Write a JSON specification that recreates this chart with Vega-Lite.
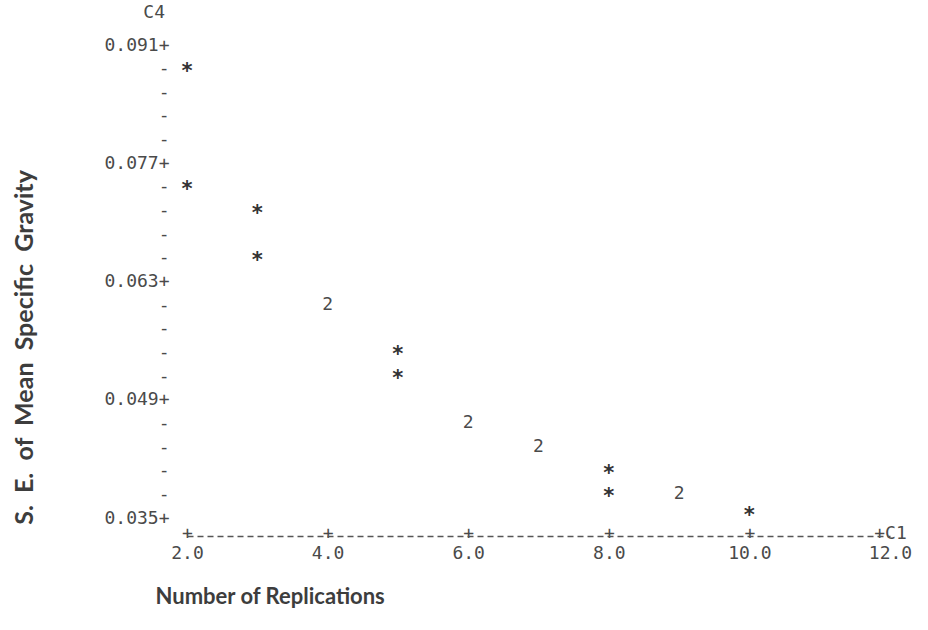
{
  "$schema": "https://vega.github.io/schema/vega-lite/v6.json",
  "autosize": {"type": "none"},
  "padding": {"left": 187, "top": 45, "right": 38, "bottom": 112},
  "width": 703,
  "height": 473,
  "background": "#ffffff",
  "config": {"view": {"stroke": null}},
  "title": {
    "text": "C4",
    "orient": "top",
    "anchor": "start",
    "frame": "group",
    "align": "right",
    "dx": -22,
    "offset": 14,
    "font": "DejaVu Sans Mono",
    "fontSize": 18,
    "fontWeight": "normal",
    "color": "#4a4a4a"
  },
  "data": {
    "values": [
      {"replications": 2, "se": 0.0882, "symbol": "*"},
      {"replications": 2, "se": 0.0742, "symbol": "*"},
      {"replications": 3, "se": 0.0714, "symbol": "*"},
      {"replications": 3, "se": 0.0658, "symbol": "*"},
      {"replications": 4, "se": 0.0602, "symbol": "2"},
      {"replications": 5, "se": 0.0546, "symbol": "*"},
      {"replications": 5, "se": 0.0518, "symbol": "*"},
      {"replications": 6, "se": 0.0462, "symbol": "2"},
      {"replications": 7, "se": 0.0434, "symbol": "2"},
      {"replications": 8, "se": 0.0406, "symbol": "*"},
      {"replications": 8, "se": 0.0378, "symbol": "*"},
      {"replications": 9, "se": 0.0378, "symbol": "2"},
      {"replications": 10, "se": 0.0356, "symbol": "*"}
    ]
  },
  "encoding": {
    "x": {
      "field": "replications",
      "type": "quantitative",
      "scale": {"domain": [2, 12], "nice": false, "zero": false},
      "axis": {
        "values": [2, 4, 6, 8, 10, 12],
        "labelExpr": "datum.value == 12 ? ['\u00a0\u00a0+C1', '12.0'] : ['+', format(datum.value, '.1f')]",
        "offset": 18,
        "grid": false,
        "ticks": false,
        "domain": true,
        "domainColor": "#555555",
        "domainWidth": 1.4,
        "domainDash": [6, 4],
        "labelFont": "DejaVu Sans Mono",
        "labelFontSize": 18,
        "labelColor": "#4a4a4a",
        "labelBaseline": "top",
        "labelLineHeight": 20,
        "labelPadding": -12,
        "labelOverlap": false,
        "labelBound": false,
        "labelFlush": false,
        "title": "Number of Replications",
        "titleFont": "Lato",
        "titleFontSize": 22,
        "titleFontWeight": "bold",
        "titleColor": "#3d3d3d",
        "titleAlign": "left",
        "titleBaseline": "middle",
        "titleX": -32,
        "titleY": 60
      }
    },
    "y": {
      "field": "se",
      "type": "quantitative",
      "scale": {"domain": [0.035, 0.091], "nice": false, "zero": false},
      "axis": {
        "values": [0.035, 0.0378, 0.0406, 0.0434, 0.0462, 0.049, 0.0518, 0.0546, 0.0574, 0.0602, 0.063, 0.0658, 0.0686, 0.0714, 0.0742, 0.077, 0.0798, 0.0826, 0.0854, 0.0882, 0.091],
        "labelExpr": "indexof([0.035, 0.049, 0.063, 0.077, 0.091], datum.value) >= 0 ? format(datum.value, '.3f') + '+' : '-'",
        "grid": false,
        "ticks": false,
        "domain": false,
        "labelFont": "DejaVu Sans Mono",
        "labelFontSize": 18,
        "labelColor": "#4a4a4a",
        "labelPadding": 18,
        "labelOverlap": false,
        "labelBound": false,
        "labelFlush": false,
        "labelBaseline": "middle",
        "title": "S.\u00a0\u00a0E.\u00a0\u00a0of\u00a0\u00a0Mean\u00a0\u00a0Specific\u00a0\u00a0Gravity",
        "titleFont": "Lato",
        "titleFontSize": 25,
        "titleFontWeight": "bold",
        "titleColor": "#3d3d3d",
        "titleAngle": -90,
        "titleAlign": "center",
        "titleBaseline": "middle",
        "titleX": -163,
        "titleY": 302
      }
    },
    "text": {"field": "symbol", "type": "nominal"}
  },
  "layer": [
    {
      "transform": [{"filter": "datum.symbol == '*'"}],
      "mark": {"type": "text", "font": "DejaVu Sans Mono", "fontSize": 21, "fontWeight": "bold", "baseline": "middle", "align": "center", "dy": 3, "color": "#333333"}
    },
    {
      "transform": [{"filter": "datum.symbol != '*'"}],
      "mark": {"type": "text", "font": "DejaVu Sans Mono", "fontSize": 18, "baseline": "middle", "align": "center", "color": "#4a4a4a"}
    }
  ]
}
